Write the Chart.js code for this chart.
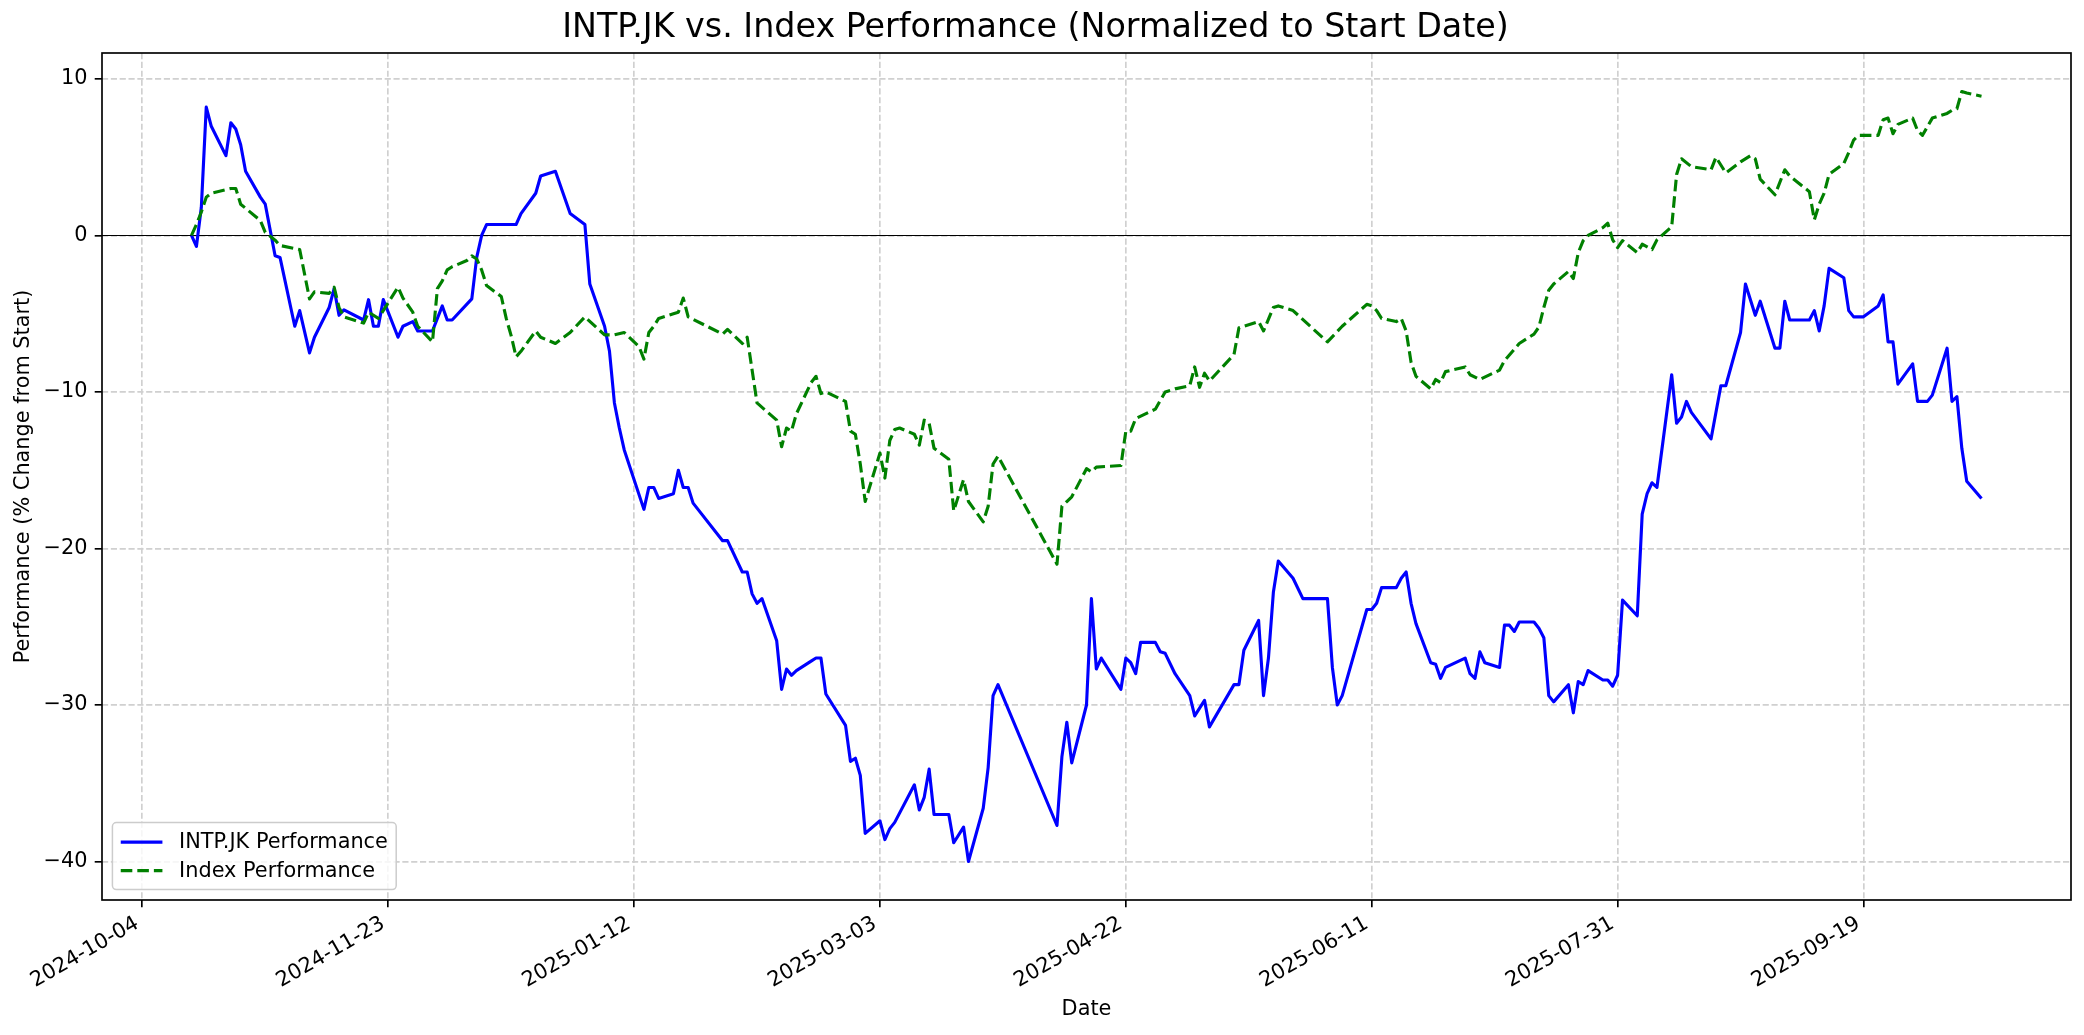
<!DOCTYPE html>
<html lang="en">
  <head>
    <meta charset="UTF-8" />
    <title>INTP.JK vs. Index Performance</title>
    <style>
      body {
        margin: 0;
        padding: 0;
        background-color: #fff;
      }

      #chart {
        display: block;
      }
    </style>
  </head>
  <body>
    <canvas id="chart" width="2084" height="1035" style="width: 2084px; height: 1035px"></canvas>

    <script src="https://cdn.jsdelivr.net/npm/chart.js"></script>
    <script>
      // INTP.JK, % change from the first close
      var stockDates = [
        "2024-10-14", "2024-10-15", "2024-10-16", "2024-10-17", "2024-10-18", "2024-10-21", "2024-10-22", "2024-10-23",
        "2024-10-24", "2024-10-25", "2024-10-28", "2024-10-29", "2024-10-31", "2024-11-01", "2024-11-04", "2024-11-05",
        "2024-11-07", "2024-11-08", "2024-11-11", "2024-11-12", "2024-11-13", "2024-11-14", "2024-11-18", "2024-11-19",
        "2024-11-20", "2024-11-21", "2024-11-22", "2024-11-25", "2024-11-26", "2024-11-28", "2024-11-29", "2024-12-02",
        "2024-12-04", "2024-12-05", "2024-12-06", "2024-12-10", "2024-12-11", "2024-12-12", "2024-12-13", "2024-12-19",
        "2024-12-20", "2024-12-23", "2024-12-24", "2024-12-27", "2024-12-30", "2025-01-02", "2025-01-03", "2025-01-06",
        "2025-01-07", "2025-01-08", "2025-01-09", "2025-01-10", "2025-01-14", "2025-01-15", "2025-01-16", "2025-01-17",
        "2025-01-20", "2025-01-21", "2025-01-22", "2025-01-23", "2025-01-24", "2025-01-30", "2025-01-31", "2025-02-03",
        "2025-02-04", "2025-02-05", "2025-02-06", "2025-02-07", "2025-02-10", "2025-02-11", "2025-02-12", "2025-02-13",
        "2025-02-14", "2025-02-17", "2025-02-18", "2025-02-19", "2025-02-20", "2025-02-24", "2025-02-25", "2025-02-26",
        "2025-02-27", "2025-02-28", "2025-03-03", "2025-03-04", "2025-03-05", "2025-03-06", "2025-03-10", "2025-03-11",
        "2025-03-12", "2025-03-13", "2025-03-14", "2025-03-17", "2025-03-18", "2025-03-20", "2025-03-21", "2025-03-24",
        "2025-03-25", "2025-03-26", "2025-03-27", "2025-04-08", "2025-04-09", "2025-04-10", "2025-04-11", "2025-04-14",
        "2025-04-15", "2025-04-16", "2025-04-17", "2025-04-21", "2025-04-22", "2025-04-23", "2025-04-24", "2025-04-25",
        "2025-04-28", "2025-04-29", "2025-04-30", "2025-05-02", "2025-05-05", "2025-05-06", "2025-05-07", "2025-05-08",
        "2025-05-09", "2025-05-14", "2025-05-15", "2025-05-16", "2025-05-19", "2025-05-20", "2025-05-21", "2025-05-22",
        "2025-05-23", "2025-05-26", "2025-05-28", "2025-06-02", "2025-06-03", "2025-06-04", "2025-06-05", "2025-06-10",
        "2025-06-11", "2025-06-12", "2025-06-13", "2025-06-16", "2025-06-17", "2025-06-18", "2025-06-19", "2025-06-20",
        "2025-06-23", "2025-06-24", "2025-06-25", "2025-06-26", "2025-06-30", "2025-07-01", "2025-07-02", "2025-07-03",
        "2025-07-04", "2025-07-07", "2025-07-08", "2025-07-09", "2025-07-10", "2025-07-11", "2025-07-14", "2025-07-15",
        "2025-07-16", "2025-07-17", "2025-07-18", "2025-07-21", "2025-07-22", "2025-07-23", "2025-07-24", "2025-07-25",
        "2025-07-28", "2025-07-29", "2025-07-30", "2025-07-31", "2025-08-01", "2025-08-04", "2025-08-05", "2025-08-06",
        "2025-08-07", "2025-08-08", "2025-08-11", "2025-08-12", "2025-08-13", "2025-08-14", "2025-08-15", "2025-08-19",
        "2025-08-21", "2025-08-22", "2025-08-25", "2025-08-26", "2025-08-28", "2025-08-29", "2025-09-01", "2025-09-02",
        "2025-09-03", "2025-09-04", "2025-09-08", "2025-09-09", "2025-09-10", "2025-09-11", "2025-09-12", "2025-09-15",
        "2025-09-16", "2025-09-17", "2025-09-19", "2025-09-22", "2025-09-23", "2025-09-24", "2025-09-25", "2025-09-26",
        "2025-09-29", "2025-09-30", "2025-10-02", "2025-10-03", "2025-10-06", "2025-10-07", "2025-10-08", "2025-10-09",
        "2025-10-10", "2025-10-13"
      ];
      var stockValues = [
        0.0, -0.7, 1.8, 8.2, 7.0, 5.1, 7.2, 6.8,
        5.8, 4.1, 2.45, 2.0, -1.3, -1.4, -5.8, -4.8,
        -7.5, -6.5, -4.6, -3.4, -5.1, -4.75, -5.4, -4.1,
        -5.8, -5.8, -4.1, -6.5, -5.8, -5.5, -6.1, -6.1,
        -4.5, -5.4, -5.4, -4.05, -1.4, 0.0, 0.7, 0.7,
        1.4, 2.7, 3.8, 4.1, 1.4, 0.7, -3.1, -5.8,
        -7.4, -10.7, -12.3, -13.7, -17.5, -16.1, -16.1, -16.8,
        -16.5, -15.0, -16.1, -16.1, -17.1, -19.5, -19.5, -21.5,
        -21.5, -22.9, -23.5, -23.2, -25.9, -29.0, -27.7, -28.1,
        -27.8, -27.2, -27.0, -27.0, -29.3, -31.3, -33.6, -33.4,
        -34.5, -38.2, -37.4, -38.6, -37.9, -37.5, -35.1, -36.7,
        -35.9, -34.1, -37.0, -37.0, -38.8, -37.8, -40.0, -36.6,
        -34.0, -29.4, -28.7, -37.7, -33.3, -31.1, -33.7, -30.0,
        -23.2, -27.7, -27.0, -29.0, -27.0, -27.3, -28.0, -26.0,
        -26.0, -26.6, -26.7, -28.0, -29.4, -30.7, -30.2, -29.7,
        -31.4, -28.7, -28.7, -26.5, -24.6, -29.4, -27.0, -22.8,
        -20.8, -21.9, -23.2, -23.2, -27.6, -30.0, -29.4, -23.9,
        -23.9, -23.5, -22.5, -22.5, -21.9, -21.5, -23.5, -24.8,
        -27.3, -27.4, -28.3, -27.6, -27.0, -28.0, -28.3, -26.6,
        -27.3, -27.6, -24.9, -24.9, -25.3, -24.7, -24.7, -25.1,
        -25.7, -29.4, -29.8, -28.7, -30.5, -28.5, -28.7, -27.8,
        -28.4, -28.4, -28.8, -28.1, -23.3, -24.3, -17.8, -16.5,
        -15.8, -16.1, -8.9, -12.0, -11.6, -10.6, -11.3, -13.0,
        -9.6, -9.6, -6.2, -3.1, -5.1, -4.2, -7.2, -7.2,
        -4.2, -5.4, -5.4, -4.8, -6.1, -4.5, -2.1, -2.7,
        -4.8, -5.2, -5.2, -4.5, -3.8, -6.8, -6.8, -9.5,
        -8.2, -10.6, -10.6, -10.2, -7.2, -10.6, -10.3, -13.6,
        -15.7, -16.8
      ];

      // Index, % change from the first close
      var indexDates = [
        "2024-10-14", "2024-10-15", "2024-10-16", "2024-10-17", "2024-10-18", "2024-10-22", "2024-10-23", "2024-10-24",
        "2024-10-28", "2024-10-29", "2024-10-31", "2024-11-01", "2024-11-05", "2024-11-07", "2024-11-08", "2024-11-11",
        "2024-11-12", "2024-11-13", "2024-11-14", "2024-11-18", "2024-11-19", "2024-11-21", "2024-11-25", "2024-11-26",
        "2024-11-28", "2024-11-29", "2024-12-02", "2024-12-03", "2024-12-04", "2024-12-05", "2024-12-06", "2024-12-09",
        "2024-12-10", "2024-12-11", "2024-12-12", "2024-12-13", "2024-12-16", "2024-12-17", "2024-12-18", "2024-12-19",
        "2024-12-20", "2024-12-23", "2024-12-24", "2024-12-27", "2024-12-30", "2025-01-02", "2025-01-06", "2025-01-08",
        "2025-01-10", "2025-01-13", "2025-01-14", "2025-01-15", "2025-01-16", "2025-01-17", "2025-01-20", "2025-01-21",
        "2025-01-22", "2025-01-23", "2025-01-30", "2025-01-31", "2025-02-03", "2025-02-04", "2025-02-05", "2025-02-06",
        "2025-02-10", "2025-02-11", "2025-02-12", "2025-02-13", "2025-02-14", "2025-02-17", "2025-02-18", "2025-02-19",
        "2025-02-20", "2025-02-24", "2025-02-25", "2025-02-26", "2025-02-27", "2025-02-28", "2025-03-03", "2025-03-04",
        "2025-03-05", "2025-03-06", "2025-03-07", "2025-03-10", "2025-03-11", "2025-03-12", "2025-03-13", "2025-03-14",
        "2025-03-17", "2025-03-18", "2025-03-20", "2025-03-21", "2025-03-24", "2025-03-25", "2025-03-26", "2025-03-27",
        "2025-04-08", "2025-04-09", "2025-04-10", "2025-04-11", "2025-04-14", "2025-04-15", "2025-04-16", "2025-04-21",
        "2025-04-22", "2025-04-23", "2025-04-24", "2025-04-28", "2025-04-30", "2025-05-02", "2025-05-05", "2025-05-06",
        "2025-05-07", "2025-05-08", "2025-05-09", "2025-05-14", "2025-05-15", "2025-05-16", "2025-05-19", "2025-05-20",
        "2025-05-22", "2025-05-23", "2025-05-26", "2025-06-02", "2025-06-05", "2025-06-10", "2025-06-11", "2025-06-12",
        "2025-06-13", "2025-06-16", "2025-06-17", "2025-06-18", "2025-06-19", "2025-06-20", "2025-06-23", "2025-06-24",
        "2025-06-25", "2025-06-26", "2025-06-30", "2025-07-01", "2025-07-03", "2025-07-07", "2025-07-08", "2025-07-11",
        "2025-07-14", "2025-07-15", "2025-07-16", "2025-07-17", "2025-07-18", "2025-07-21", "2025-07-22", "2025-07-23",
        "2025-07-24", "2025-07-25", "2025-07-28", "2025-07-29", "2025-07-30", "2025-07-31", "2025-08-01", "2025-08-04",
        "2025-08-05", "2025-08-07", "2025-08-08", "2025-08-11", "2025-08-12", "2025-08-13", "2025-08-15", "2025-08-19",
        "2025-08-20", "2025-08-22", "2025-08-25", "2025-08-27", "2025-08-28", "2025-08-29", "2025-09-01", "2025-09-03",
        "2025-09-04", "2025-09-08", "2025-09-09", "2025-09-10", "2025-09-11", "2025-09-12", "2025-09-15", "2025-09-16",
        "2025-09-17", "2025-09-18", "2025-09-19", "2025-09-22", "2025-09-23", "2025-09-24", "2025-09-25", "2025-09-26",
        "2025-09-29", "2025-09-30", "2025-10-01", "2025-10-03", "2025-10-06", "2025-10-07", "2025-10-08", "2025-10-09",
        "2025-10-10", "2025-10-13"
      ];
      var indexValues = [
        0.0, 0.7, 1.5, 2.45, 2.7, 3.0, 3.0, 2.0,
        0.96, 0.2, -0.3, -0.64, -0.9, -4.05, -3.6, -3.7,
        -3.3, -4.6, -5.2, -5.6, -4.9, -5.3, -3.3, -4.0,
        -4.9, -5.8, -6.8, -3.4, -2.9, -2.2, -2.0, -1.6,
        -1.3, -1.5, -2.2, -3.2, -3.9, -5.3, -6.4, -7.75,
        -7.4, -6.1, -6.5, -6.9, -6.2, -5.2, -6.35, -6.35,
        -6.2, -7.1, -7.9, -6.2, -5.8, -5.3, -5.0, -4.9,
        -4.0, -5.2, -6.3, -6.0, -6.9, -6.5, -8.6, -10.7,
        -11.8, -13.5, -12.3, -12.5, -11.4, -9.4, -9.0, -10.1,
        -10.0, -10.6, -12.5, -12.7, -14.6, -17.0, -13.9, -15.5,
        -13.1, -12.4, -12.3, -12.7, -13.4, -11.8, -12.0, -13.6,
        -14.3, -17.6, -15.6, -17.0, -18.3, -17.3, -14.6, -14.1,
        -21.0, -17.3, -17.0, -16.7, -14.9, -15.1, -14.8, -14.7,
        -12.5, -12.5, -11.7, -11.1, -10.0, -9.8, -9.6, -8.4,
        -9.7, -8.8, -9.3, -7.6, -5.9, -5.8, -5.5, -6.1,
        -4.6, -4.5, -4.8, -6.8, -5.8, -4.4, -4.5, -4.8,
        -5.3, -5.5, -5.3, -6.1, -8.1, -9.0, -9.8, -9.2,
        -9.4, -8.7, -8.4, -8.9, -9.2, -8.6, -8.0, -6.9,
        -6.3, -5.85, -4.6, -3.5, -3.1, -2.3, -2.75, -1.1,
        -0.33, 0.0, 0.5, 0.78, -0.28, -0.78, -0.33, -1.1,
        -0.56, -0.9, -0.28, 0.56, 3.9, 4.9, 4.4, 4.2,
        5.0, 4.0, 4.7, 5.1, 4.9, 3.6, 2.6, 4.2,
        3.8, 2.8, 1.0, 2.0, 2.7, 3.9, 4.6, 5.3,
        6.1, 6.4, 6.4, 6.4, 7.4, 7.5, 6.5, 7.1,
        7.5, 6.7, 6.4, 7.5, 7.8, 8.0, 8.1, 9.2,
        9.1, 8.9
      ];

      var xTickLabels = [
        "2024-10-04", "2024-11-23", "2025-01-12", "2025-03-03",
        "2025-04-22", "2025-06-11", "2025-07-31", "2025-09-19"
      ];
      var yTickValues = [-40, -30, -20, -10, 0, 10];

      var PT = 150 / 72; // matplotlib points -> px at 150 dpi

      function toPoints(dates, values) {
        return dates.map(function (d, i) {
          return { x: Date.parse(d), y: values[i] };
        });
      }

      // 5% margins like matplotlib's autoscale
      var allTimes = stockDates.concat(indexDates).map(function (d) { return Date.parse(d); });
      var tFirst = Math.min.apply(null, allTimes);
      var tLast = Math.max.apply(null, allTimes);
      var tSpan = tLast - tFirst;
      var allValues = stockValues.concat(indexValues);
      var vMin = Math.min.apply(null, allValues);
      var vMax = Math.max.apply(null, allValues);
      var vSpan = vMax - vMin;

      Chart.defaults.font.family = "'DejaVu Sans', sans-serif";
      Chart.defaults.color = "#000";

      function roundedBox(ctx, x, y, w, h, r) {
        ctx.beginPath();
        ctx.moveTo(x + r, y);
        ctx.arcTo(x + w, y, x + w, y + h, r);
        ctx.arcTo(x + w, y + h, x, y + h, r);
        ctx.arcTo(x, y + h, x, y, r);
        ctx.arcTo(x, y, x + w, y, r);
        ctx.closePath();
      }

      // zero line, axes frame and the lower-left legend
      var framePlugin = {
        id: "framePlugin",
        beforeDatasetsDraw: function (chart) {
          var ctx = chart.ctx;
          var area = chart.chartArea;
          var y0 = Math.round(chart.scales.y.getPixelForValue(0)) + 0.5;
          ctx.save();
          ctx.strokeStyle = "#000";
          ctx.lineWidth = 1.2;
          ctx.beginPath();
          ctx.moveTo(area.left, y0);
          ctx.lineTo(area.right, y0);
          ctx.stroke();
          ctx.restore();
        },
        afterDatasetsDraw: function (chart) {
          var ctx = chart.ctx;
          var area = chart.chartArea;
          ctx.save();
          ctx.strokeStyle = "#000";
          ctx.lineWidth = 0.8 * PT;
          ctx.strokeRect(area.left, area.top, area.right - area.left, area.bottom - area.top);

          // legend
          var fs = 10 * PT;
          ctx.font = fs + "px 'DejaVu Sans'";
          var sets = chart.data.datasets;
          var textW = 0;
          sets.forEach(function (ds) {
            textW = Math.max(textW, ctx.measureText(ds.label).width);
          });
          var pad = 0.4 * fs;
          var handle = 2 * fs;
          var gap = 0.8 * fs;
          var w = pad + handle + gap + textW + pad;
          var h = 67;
          var x0 = area.left + 0.5 * fs;
          var top = area.bottom - 0.5 * fs - h;
          roundedBox(ctx, x0, top, w, h, 4);
          ctx.fillStyle = "rgba(255,255,255,0.8)";
          ctx.fill();
          ctx.strokeStyle = "#cccccc";
          ctx.lineWidth = 1.5;
          ctx.stroke();

          sets.forEach(function (ds, i) {
            var cy = top + 19.5 + i * 28.5;
            ctx.strokeStyle = ds.borderColor;
            ctx.lineWidth = ds.borderWidth;
            ctx.setLineDash(ds.borderDash || []);
            ctx.beginPath();
            ctx.moveTo(x0 + pad, cy);
            ctx.lineTo(x0 + pad + handle, cy);
            ctx.stroke();
            ctx.setLineDash([]);
            ctx.fillStyle = "#000";
            ctx.textAlign = "left";
            ctx.textBaseline = "middle";
            ctx.fillText(ds.label, x0 + pad + handle + gap, cy + 1);
          });
          ctx.restore();
        }
      };

      var gridStyle = {
        color: "#d0d0d0",
        lineWidth: 0.8 * PT,
        drawTicks: true,
        tickLength: 3.5 * PT,
        tickColor: "#000",
        tickWidth: 0.8 * PT,
        tickBorderDash: []
      };

      var ctx = document.getElementById("chart").getContext("2d");
      var chart = new Chart(ctx, {
        type: "line",
        data: {
          datasets: [
            {
              label: "INTP.JK Performance",
              data: toPoints(stockDates, stockValues),
              borderColor: "#0000ff",
              borderWidth: 1.5 * PT,
              pointRadius: 0,
              tension: 0,
              borderJoinStyle: "round",
              borderCapStyle: "butt",
              order: 1
            },
            {
              label: "Index Performance",
              data: toPoints(indexDates, indexValues),
              borderColor: "#008000",
              borderWidth: 1.5 * PT,
              borderDash: [5.55 * PT, 2.4 * PT],
              pointRadius: 0,
              tension: 0,
              borderJoinStyle: "round",
              borderCapStyle: "butt",
              order: 0
            }
          ]
        },
        options: {
          responsive: false,
          animation: false,
          devicePixelRatio: 1,
          layout: { padding: { left: 0, right: 13, top: 0, bottom: 0 } },
          plugins: {
            legend: { display: false },
            tooltip: { enabled: false },
            title: {
              display: true,
              text: "INTP.JK vs. Index Performance (Normalized to Start Date)",
              color: "#000",
              font: { size: 16 * PT, weight: "normal" },
              padding: { top: 8, bottom: 5 }
            }
          },
          scales: {
            x: {
              type: "linear",
              min: tFirst - 0.05 * tSpan,
              max: tLast + 0.05 * tSpan,
              afterBuildTicks: function (scale) {
                scale.ticks = xTickLabels.map(function (l) {
                  return { value: Date.parse(l) };
                });
              },
              afterFit: function (scale) {
                scale.height = 135;
              },
              ticks: {
                autoSkip: false,
                minRotation: 30,
                maxRotation: 30,
                padding: 4,
                labelOffset: -5,
                font: { size: 10 * PT },
                callback: function (v) {
                  return new Date(v).toISOString().slice(0, 10);
                }
              },
              grid: gridStyle,
              border: { display: false, dash: [2.96 * PT, 1.28 * PT] },
              title: {
                display: true,
                text: "Date",
                font: { size: 10 * PT },
                padding: { top: 0, bottom: 12.5 }
              }
            },
            y: {
              type: "linear",
              min: vMin - 0.05 * vSpan,
              max: vMax + 0.05 * vSpan,
              afterBuildTicks: function (scale) {
                scale.ticks = yTickValues.map(function (v) {
                  return { value: v };
                });
              },
              afterFit: function (scale) {
                scale.width = 102;
              },
              ticks: {
                padding: 3.5 * PT,
                font: { size: 10 * PT },
                callback: function (v) {
                  return String(v).replace("-", "\u2212");
                }
              },
              grid: gridStyle,
              border: { display: false, dash: [2.96 * PT, 1.28 * PT] },
              title: {
                display: true,
                text: "Performance (% Change from Start)",
                font: { size: 10 * PT },
                padding: { top: 11.5, bottom: 0 }
              }
            }
          }
        },
        plugins: [framePlugin]
      });
    </script>
  </body>
</html>
